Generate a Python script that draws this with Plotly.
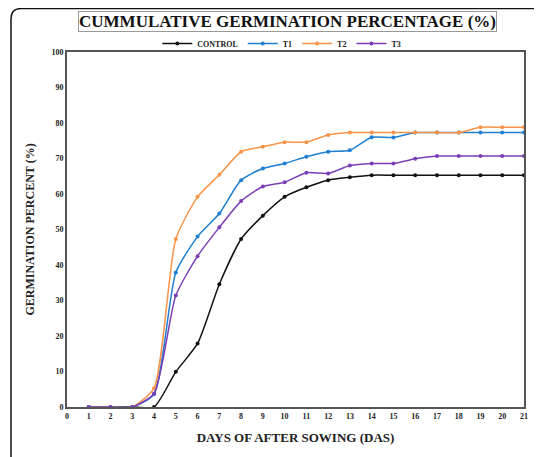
import plotly.graph_objects as go

days = list(range(1, 22))
control = [0, 0, 0, 0, 9.9, 17.9, 34.6, 47.3, 53.9, 59.2, 61.9, 63.9, 64.7, 65.3, 65.3, 65.3, 65.3, 65.3, 65.3, 65.3, 65.3]
t1 = [0, 0, 0, 3.6, 37.9, 48.0, 54.5, 63.9, 67.2, 68.6, 70.5, 71.9, 72.3, 76.0, 75.9, 77.3, 77.3, 77.3, 77.3, 77.3, 77.3]
t2 = [0, 0, 0, 5.3, 47.3, 59.2, 65.4, 71.9, 73.3, 74.6, 74.6, 76.6, 77.3, 77.3, 77.3, 77.3, 77.3, 77.3, 78.8, 78.8, 78.8]
t3 = [0, 0, 0, 3.8, 31.4, 42.5, 50.6, 58.0, 62.1, 63.3, 66.0, 65.8, 68.0, 68.6, 68.6, 69.9, 70.7, 70.7, 70.7, 70.7, 70.7]

series = [("CONTROL", control, "#111111"), ("T1", t1, "#1F7FD0"),
          ("T2", t2, "#F7944A"), ("T3", t3, "#7B3FB5")]

FONT = "Liberation Serif"
fig = go.Figure()
for name, vals, col in series:
    fig.add_trace(go.Scatter(x=days, y=vals, name="<b>" + name + "</b>", mode="lines+markers",
                             line=dict(color=col, width=1.5, shape="spline", smoothing=0.6),
                             marker=dict(color=col, size=4)))

axis_common = dict(showgrid=False, zeroline=False, showline=True, mirror=True,
                   linecolor="#555555", linewidth=2, ticks="",
                   tickfont=dict(family=FONT, size=8, color="#222222"))
fig.update_xaxes(range=[0, 21], tickmode="linear", tick0=0, dtick=1,
                 title=dict(text="<b>DAYS OF AFTER SOWING (DAS)</b>",
                            font=dict(family=FONT, size=13, color="#222222"), standoff=13),
                 tickprefix="<b>", ticksuffix="</b>", **axis_common)
fig.update_yaxes(range=[0, 100], tickmode="linear", tick0=0, dtick=10,
                 title=dict(text="<b>GERMINATION PERCENT (%)</b>",
                            font=dict(family=FONT, size=12, color="#222222"), standoff=14),
                 tickprefix="<b>", ticksuffix="</b>", **axis_common)

fig.update_layout(
    width=534, height=449,
    margin=dict(l=59, r=18, t=44, b=50),
    paper_bgcolor="white", plot_bgcolor="white",
    showlegend=True,
    legend=dict(orientation="h", x=0.47, xanchor="center", y=1.024, yanchor="middle",
                font=dict(family=FONT, size=8, color="#222222"),
                itemwidth=30, bgcolor="rgba(0,0,0,0)"),
    annotations=[dict(text="<b>CUMMULATIVE GERMINATION PERCENTAGE (%)</b>",
                      xref="paper", yref="paper", x=0.482, y=1.085,
                      xanchor="center", yanchor="middle", showarrow=False,
                      font=dict(family=FONT, size=17, color="#111111"),
                      bordercolor="#999999", borderwidth=1, borderpad=0)],
    shapes=[dict(type="path", xref="paper", yref="paper",
                 path="M 1.2,1.1225 L -0.1,1.1225 Q -0.1225,1.1225 -0.1225,1.095 L -0.1225,-0.3",
                 line=dict(color="#111111", width=1.5))],
)

fig.write_html("out.html")
